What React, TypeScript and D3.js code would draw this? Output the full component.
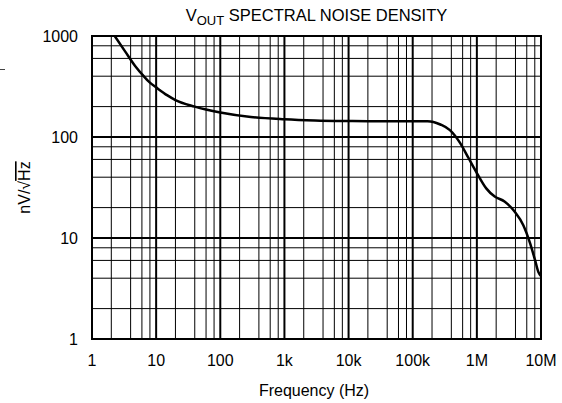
import React from "react";
import * as d3 from "d3";

// curve (Hz, nV/rtHz)
const freqHz = [
  2.26, 3.3, 4.7, 6.4, 8, 10, 15, 20, 40, 100, 300, 1000, 3000, 10000, 30000,
  100000, 170000, 210000, 270000, 380000, 550000, 740000, 1000000, 1400000,
  1900000, 2700000, 3900000, 5300000, 6750000, 8100000, 9100000, 10000000,
];
const noise = [
  1000, 700, 505, 400, 345, 310, 258, 232, 200, 175, 158, 150, 146, 144, 143,
  143, 143, 141, 133, 117, 87, 62, 44, 31, 25.7, 23, 18.2, 13.4, 8.9, 6, 4.6, 4.2,
];

const xDecades = [1, 10, 100, 1e3, 1e4, 1e5, 1e6, 1e7];
const xTickLabels = ["1", "10", "100", "1k", "10k", "100k", "1M", "10M"];
const yDecades = [1, 10, 100, 1000];
const yTickLabels = ["1", "10", "100", "1000"];
const minorSteps = [2, 4, 6, 8];

const W = 562;
const H = 403;
const left = 92, right = 541, top = 36, bottom = 339;
const font = "'Liberation Sans', Arial, sans-serif";

export default function App() {
  const x = d3.scaleLog().domain([1, 1e7]).range([left, right]);
  const y = d3.scaleLog().domain([1, 1000]).range([bottom, top]);

  const xMinor = xDecades.slice(0, -1).flatMap((d) => minorSteps.map((m) => d * m));
  const yMinor = yDecades.slice(0, -1).flatMap((d) => minorSteps.map((m) => d * m));

  const pts = freqHz.map((f, i) => [f, noise[i]] as [number, number]);
  const line = d3
    .line<[number, number]>()
    .x((d) => x(d[0]))
    .y((d) => y(d[1]))
    .curve(d3.curveMonotoneX);

  return (
    <div style={{ position: "absolute", left: 0, top: 0 }}>
      <svg width={W} height={H} style={{ display: "block", background: "#fff" }} fontFamily={font}>
        <defs>
          <clipPath id="plot">
            <rect x={left} y={top} width={right - left} height={bottom - top} />
          </clipPath>
        </defs>

        {/* stray tick at far left */}
        <line x1={0} x2={5} y1={69.5} y2={69.5} stroke="#444" strokeWidth={1} />

        {/* minor grid */}
        {xMinor.map((v) => (
          <line key={"xm" + v} x1={x(v)} x2={x(v)} y1={top} y2={bottom} stroke="#000" strokeWidth={1} />
        ))}
        {yMinor.map((v) => (
          <line key={"ym" + v} x1={left} x2={right} y1={y(v)} y2={y(v)} stroke="#000" strokeWidth={1} />
        ))}

        {/* major grid */}
        {xDecades.map((v) => (
          <line key={"xM" + v} x1={x(v)} x2={x(v)} y1={top} y2={bottom} stroke="#000" strokeWidth={2} />
        ))}
        {yDecades.map((v) => (
          <line key={"yM" + v} x1={left} x2={right} y1={y(v)} y2={y(v)} stroke="#000" strokeWidth={2} />
        ))}

        <rect x={left} y={top} width={right - left} height={bottom - top} fill="none" stroke="#000" strokeWidth={2} />

        <path d={line(pts) || ""} fill="none" stroke="#000" strokeWidth={2.5} clipPath="url(#plot)" />

        {/* tick labels */}
        {xDecades.map((v, i) => (
          <text key={"xl" + v} x={x(v)} y={366} textAnchor="middle" fontSize={16} fill="#000">
            {xTickLabels[i]}
          </text>
        ))}
        {yDecades.map((v, i) => (
          <text key={"yl" + v} x={78} y={y(v)} dy="0.35em" textAnchor="end" fontSize={16} fill="#000">
            {yTickLabels[i]}
          </text>
        ))}

        {/* title */}
        <text x={(left + right) / 2} y={21} textAnchor="middle" fontSize={16.5} fill="#000">
          V
          <tspan fontSize={13} dy={3.5}>OUT</tspan>
          <tspan dy={-3.5}> SPECTRAL NOISE DENSITY</tspan>
        </text>

        {/* axis titles */}
        <text x={314} y={395.5} textAnchor="middle" fontSize={16} fill="#000">
          Frequency (Hz)
        </text>
        <text
          transform={`translate(30, ${(top + bottom) / 2}) rotate(-90)`}
          textAnchor="middle"
          fontSize={16}
          fill="#000"
        >
          nV/√<tspan style={{ textDecoration: "overline" }}>Hz</tspan>
        </text>
      </svg>
    </div>
  );
}
